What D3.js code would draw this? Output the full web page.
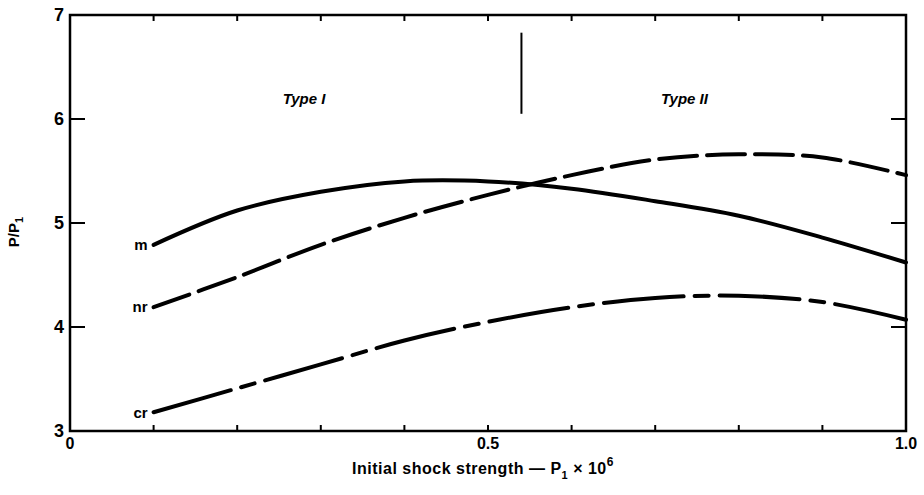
<!DOCTYPE html>
<html>
<head>
<meta charset="utf-8">
<script src="https://cdn.jsdelivr.net/npm/d3@7"></script>
<style>
  html, body { margin: 0; padding: 0; background: #fff; }
  svg { display: block; }
  text { font-family: "Liberation Sans", "DejaVu Sans", sans-serif; font-weight: bold; fill: #000; }
</style>
</head>
<body>
<svg id="chart" width="924" height="495"></svg>
<script>
// Initial shock strength (P1 x 10^6)
const shockStrength = [0.1, 0.2, 0.3, 0.4, 0.5, 0.6, 0.7, 0.8, 0.9, 1.0];
// Pressure ratio P/P1 for each reflection type
const mValues  = [4.79, 5.12, 5.30, 5.40, 5.40, 5.33, 5.21, 5.07, 4.86, 4.62];
const nrValues = [4.19, 4.48, 4.79, 5.05, 5.27, 5.46, 5.61, 5.66, 5.63, 5.46];
const crValues = [3.18, 3.41, 3.64, 3.87, 4.05, 4.19, 4.28, 4.30, 4.24, 4.07];
const seriesNames = ["m", "nr", "cr"];
const yTicks = [3, 4, 5, 6, 7];
const xTickLabels = [{v: 0, t: "0"}, {v: 0.5, t: "0.5"}, {v: 1.0, t: "1.0"}];
const minorX = [0.1, 0.2, 0.3, 0.4, 0.5, 0.6, 0.7, 0.8, 0.9];
// Boundary between the two regimes
const typeBoundary = 0.54;
const regimeLabels = [{x: 0.28, t: "Type I"}, {x: 0.735, t: "Type II"}];

const svg = d3.select("#chart");
const plotLeft = 70, plotRight = 906, plotTop = 15, plotBottom = 431;
const x = d3.scaleLinear().domain([0, 1]).range([plotLeft, plotRight]);
const y = d3.scaleLinear().domain([3, 7]).range([plotBottom, plotTop]);

// Frame
svg.append("rect")
  .attr("x", plotLeft).attr("y", plotTop)
  .attr("width", plotRight - plotLeft).attr("height", plotBottom - plotTop)
  .attr("fill", "none").attr("stroke", "#000").attr("stroke-width", 2.5);

// Inward ticks on all four sides
const tickG = svg.append("g").attr("stroke", "#000").attr("stroke-width", 2);
minorX.forEach(v => {
  tickG.append("line").attr("x1", x(v)).attr("x2", x(v)).attr("y1", plotBottom).attr("y2", plotBottom - 6);
  tickG.append("line").attr("x1", x(v)).attr("x2", x(v)).attr("y1", plotTop).attr("y2", plotTop + 6);
});
yTicks.filter(v => v > 3 && v < 7).forEach(v => {
  tickG.append("line").attr("x1", plotLeft).attr("x2", plotLeft + 15).attr("y1", y(v)).attr("y2", y(v));
  tickG.append("line").attr("x1", plotRight).attr("x2", plotRight - 15).attr("y1", y(v)).attr("y2", y(v));
});

// Y tick labels
svg.append("g").selectAll("text").data(yTicks).join("text")
  .attr("x", plotLeft - 6).attr("y", d => y(d))
  .attr("text-anchor", "end").attr("dy", "0.36em")
  .attr("font-size", 18)
  .text(d => d);

// X tick labels
svg.append("g").selectAll("text").data(xTickLabels).join("text")
  .attr("x", d => x(d.v)).attr("y", plotBottom + 18)
  .attr("text-anchor", "middle")
  .attr("font-size", 16)
  .text(d => d.t);

// Axis titles
const xt = svg.append("text")
  .attr("x", 483).attr("y", 474)
  .attr("text-anchor", "middle").attr("font-size", 16)
  .attr("letter-spacing", 0.5);
xt.append("tspan").text("Initial shock strength \u2014 P");
xt.append("tspan").attr("font-size", 11).attr("dy", 5).text("1");
xt.append("tspan").attr("dy", -5).text(" \u00d7 10");
xt.append("tspan").attr("font-size", 12).attr("dy", -8).text("6");

const yt = svg.append("text")
  .attr("transform", "translate(19,232) rotate(-90)")
  .attr("text-anchor", "middle").attr("font-size", 15);
yt.append("tspan").text("P/P");
yt.append("tspan").attr("font-size", 11).attr("dy", 4).text("1");

// Regime boundary and labels
svg.append("line")
  .attr("x1", x(typeBoundary)).attr("x2", x(typeBoundary))
  .attr("y1", y(6.83)).attr("y2", y(6.05))
  .attr("stroke", "#000").attr("stroke-width", 2);
svg.append("g").selectAll("text").data(regimeLabels).join("text")
  .attr("x", d => x(d.x)).attr("y", 104)
  .attr("text-anchor", "middle").attr("font-size", 15)
  .attr("font-style", "italic")
  .text(d => d.t);

// Curves
const line = d3.line()
  .x((d, i) => x(shockStrength[i]))
  .y(d => y(d))
  .curve(d3.curveCatmullRom.alpha(0.5));

const curves = [
  {name: "m",  values: mValues,  dash: null},
  {name: "nr", values: nrValues, dash: "38,10"},
  {name: "cr", values: crValues, dash: "80,11,14,11"}
];

svg.append("g").selectAll("path").data(curves).join("path")
  .attr("d", d => line(d.values))
  .attr("fill", "none").attr("stroke", "#000")
  .attr("stroke-width", 4).attr("stroke-linecap", "round")
  .attr("stroke-dasharray", d => d.dash);

// Curve labels at the left ends
svg.append("g").selectAll("text").data(curves).join("text")
  .attr("x", x(shockStrength[0]) - 6)
  .attr("y", d => y(d.values[0]))
  .attr("dy", "0.35em")
  .attr("text-anchor", "end").attr("font-size", 15)
  .text(d => d.name);
</script>
</body>
</html>
